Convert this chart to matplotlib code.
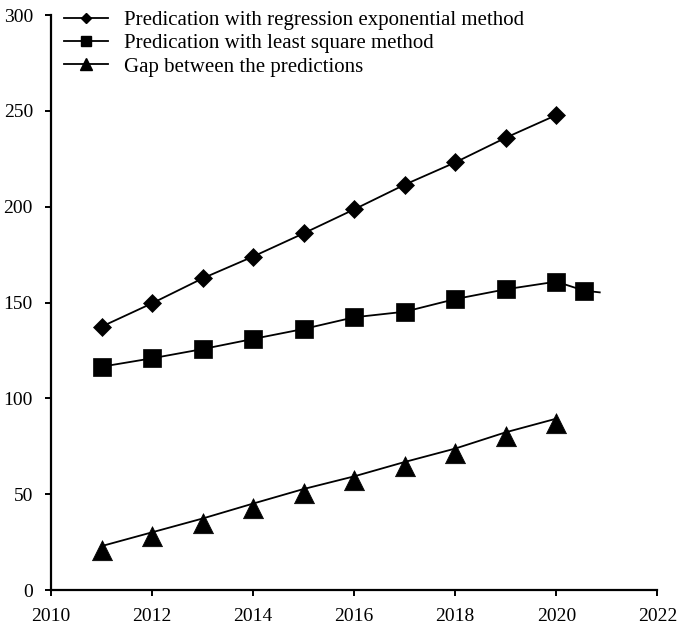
import matplotlib
matplotlib.use("Agg")
import matplotlib.pyplot as plt
from matplotlib.lines import Line2D

plt.rcParams['font.family'] = ['Liberation Serif', 'DejaVu Serif']

years = [2011, 2012, 2013, 2014, 2015, 2016, 2017, 2018, 2019, 2020]
regression_exp = [137.4, 149.6, 162.6, 174.0, 186.1, 198.6, 211.5, 223.1, 236.0, 247.8]
least_square_years = [2011, 2012, 2013, 2014, 2015, 2016, 2017, 2018, 2019, 2020, 2020.55, 2020.86]
least_square = [116.5, 120.9, 125.7, 131.0, 136.2, 142.3, 145.2, 151.8, 156.9, 160.9, 156.2, 155.3]
gap = [22.9, 30.1, 37.3, 45.1, 52.7, 59.3, 66.8, 73.8, 82.3, 89.4]

labels = ["Predication with regression exponential method",
          "Predication with least square method",
          "Gap between the predictions"]
xticks = [2010, 2012, 2014, 2016, 2018, 2020, 2022]
yticks = [0, 50, 100, 150, 200, 250, 300]

# triangle marker whose apex region sits on the line (as in the reference)
tri = [(0, 0.58), (-1, -1.42), (1, -1.42), (0, 0.58)]

fig = plt.figure(figsize=(6.77, 6.27), dpi=100)
ax = fig.add_axes([0.0753, 0.059, 0.8957, 0.917])

ax.plot(years, regression_exp, color='black', lw=1.3, marker='D', ms=8.8,
        mfc='black', mec='black', mew=0.5, clip_on=False)
ax.plot(least_square_years, least_square, color='black', lw=1.3, marker='s', ms=13.6,
        mfc='black', mec='black', mew=0.5, markevery=list(range(11)), clip_on=False)
ax.plot(years, gap, color='black', lw=1.3, marker=tri, ms=20.5,
        mfc='black', mec='black', mew=0.5, clip_on=False)

ax.set_xlim(2010, 2022)
ax.set_ylim(0, 300)
ax.set_xticks(xticks)
ax.set_yticks(yticks)
ax.tick_params(direction='out', length=4, width=1.4, labelsize=14)
ax.tick_params(axis='y', pad=9)
ax.tick_params(axis='x', pad=9)
for s in ['top', 'right']:
    ax.spines[s].set_visible(False)
for s in ['left', 'bottom']:
    ax.spines[s].set_linewidth(1.6)

handles = [
    Line2D([], [], color='black', lw=1.3, marker='D', ms=5.5),
    Line2D([], [], color='black', lw=1.3, marker='s', ms=7),
    Line2D([], [], color='black', lw=1.3, marker='^', ms=8),
]
ax.legend(handles, labels, loc='upper left', bbox_to_anchor=(0.008, 1.022),
          frameon=False, fontsize=15, handlelength=2.1, handletextpad=0.75,
          labelspacing=0.17, borderaxespad=0)

fig.savefig('out.png', dpi=100)
